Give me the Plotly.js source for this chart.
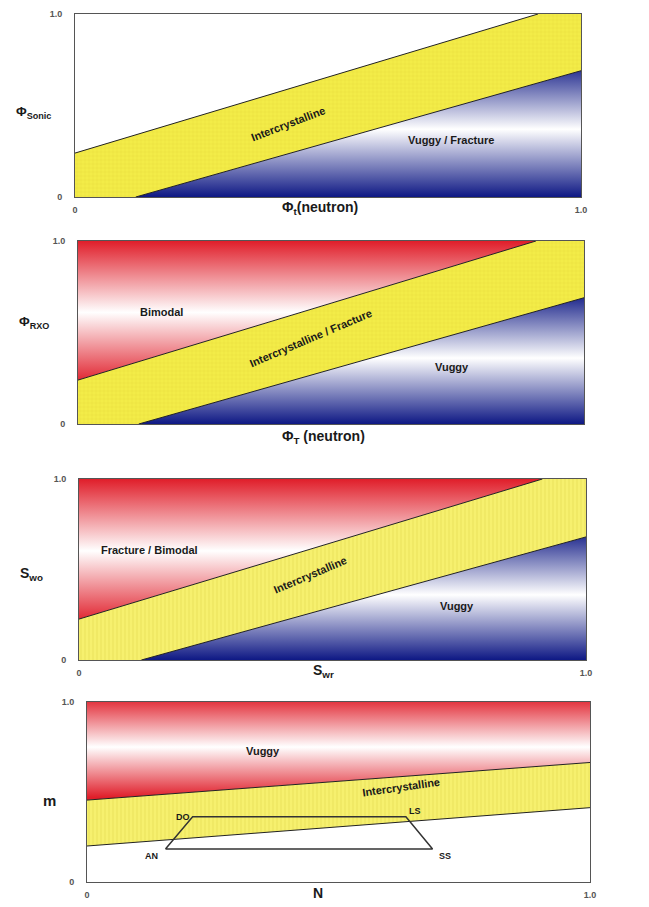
<!DOCTYPE html>
<html>
<head>
<meta charset="utf-8">
<script src="https://cdn.plot.ly/plotly-3.0.1.min.js"></script>
<style>html,body{margin:0;padding:0;background:#fff;}#chart{width:649px;height:907px;}</style>
</head>
<body>
<div id="chart"></div>
<script>
// ---- data (axis units 0..1) ----
const tickVals = [0, 1];
const tickText = ['<b>0</b>', '<b>1.0</b>'];

// Panel 1: Phi_sonic vs Phi_t(neutron)
const p1UpperX = [0, 0.915], p1UpperY = [0.24, 1.0];
const p1LowerX = [0.12, 1.0], p1LowerY = [0, 0.69];
// Panel 2: Phi_RXO vs Phi_T(neutron)
const p2UpperX = [0, 0.905], p2UpperY = [0.24, 1.0];
const p2LowerX = [0.12, 1.0], p2LowerY = [0, 0.69];
// Panel 3: S_wo vs S_wr
const p3UpperX = [0, 0.914], p3UpperY = [0.226, 1.0];
const p3LowerX = [0.123, 1.0], p3LowerY = [0, 0.68];
// Panel 4: m vs N
const p4UpperX = [0, 1.0], p4UpperY = [0.455, 0.664];
const p4LowerX = [0, 1.0], p4LowerY = [0.20, 0.413];
// Lithology trapezoid (panel 4)
const lithNames = ['AN', 'DO', 'LS', 'SS'];
const lithX = [0.156, 0.21, 0.634, 0.687];
const lithY = [0.183, 0.363, 0.363, 0.183];

// Region labels
const p1Labels = [{t:'Intercrystalline', x:0.42, y:0.40, a:-21}, {t:'Vuggy / Fracture', x:0.743, y:0.31, a:0}];
const p2Labels = [{t:'Bimodal', x:0.165, y:0.61, a:0}, {t:'Intercrystalline / Fracture', x:0.46, y:0.47, a:-23}, {t:'Vuggy', x:0.74, y:0.31, a:0}];
const p3Labels = [{t:'Fracture / Bimodal', x:0.14, y:0.605, a:0}, {t:'Intercrystalline', x:0.455, y:0.47, a:-23}, {t:'Vuggy', x:0.746, y:0.30, a:0}];
const p4Labels = [{t:'Vuggy', x:0.35, y:0.73, a:0}, {t:'Intercrystalline', x:0.625, y:0.527, a:-8}];

// ---- styles ----
const FONT = 'Liberation Sans, Arial, sans-serif';
const BLUE = 'rgb(14,24,132)';
const RED = 'rgb(224,30,42)';
const YEL = 'rgb(243,236,72)';
const YEL2 = 'rgb(246,240,110)';
const blueScale = [[0, BLUE], [0.5, 'rgb(255,255,255)'], [1, BLUE]];
const redScale = [[0, RED], [0.5, 'rgb(255,255,255)'], [1, RED]];

const traces = [];
function ax(i){ return i === 1 ? '' : String(i); }

function poly(i, xs, ys, extra){
  traces.push(Object.assign({
    type:'scatter', mode:'lines', x:xs, y:ys, fill:'toself',
    line:{width:0, color:'rgba(0,0,0,0)'}, hoverinfo:'skip', showlegend:false,
    xaxis:'x'+ax(i), yaxis:'y'+ax(i)
  }, extra));
}
function line(i, xs, ys){
  traces.push({type:'scatter', mode:'lines', x:xs, y:ys, line:{width:1, color:'#222'},
    hoverinfo:'skip', showlegend:false, xaxis:'x'+ax(i), yaxis:'y'+ax(i)});
}

function diagonalPanel(i, ux, uy, lx, ly, topRed, blueStop, pat, yc){
  const bandX = [ux[0], ux[1], 1, lx[1], lx[0], 0];
  const bandY = [uy[0], uy[1], 1, ly[1], ly[0], 0];
  poly(i, bandX, bandY, {fillcolor: yc, fillpattern:{shape:pat, bgcolor:yc, fgcolor:'rgba(200,190,40,0.55)', size:4, solidity:0.12}});
  poly(i, [lx[0], lx[1], 1], [ly[0], ly[1], 0], {fillgradient:{type:'vertical', start:0, stop:blueStop, colorscale:blueScale}});
  if (topRed){
    poly(i, [0, ux[0], ux[1]], [1, uy[0], uy[1]], {fillgradient:{type:'vertical', start:uy[0]-0.02, stop:1.0, colorscale:redScale}});
  }
  line(i, ux, uy);
  line(i, lx, ly);
}

diagonalPanel(1, p1UpperX, p1UpperY, p1LowerX, p1LowerY, false, 0.74, '+', YEL);
diagonalPanel(2, p2UpperX, p2UpperY, p2LowerX, p2LowerY, true, 0.72, '+', YEL);
diagonalPanel(3, p3UpperX, p3UpperY, p3LowerX, p3LowerY, true, 0.72, '|', YEL2);

// panel 4
poly(4, [p4UpperX[0], p4UpperX[1], p4LowerX[1], p4LowerX[0]], [p4UpperY[0], p4UpperY[1], p4LowerY[1], p4LowerY[0]],
  {fillcolor:YEL2, fillpattern:{shape:'|', bgcolor:YEL2, fgcolor:'rgba(200,190,40,0.55)', size:4, solidity:0.12}});
poly(4, [0, p4UpperX[0], p4UpperX[1], 1], [1, p4UpperY[0], p4UpperY[1], 1],
  {fillgradient:{type:'vertical', start:0.47, stop:1.03, colorscale:redScale}});
line(4, p4UpperX, p4UpperY);
line(4, p4LowerX, p4LowerY);
traces.push({type:'scatter', mode:'lines', x:lithX.concat([lithX[0]]), y:lithY.concat([lithY[0]]),
  line:{width:1.5, color:'#333'}, hoverinfo:'skip', showlegend:false, xaxis:'x4', yaxis:'y4'});

// ---- layout ----
const W = 649, H = 907;
const boxes = [ // pixel boxes [left, right, top, bottom]
  [75, 581, 14, 197],
  [78, 584, 241, 424],
  [79, 586, 479, 660],
  [87, 590, 702, 882]
];
const layout = {
  width:W, height:H, margin:{l:0, r:0, t:0, b:0},
  paper_bgcolor:'#ffffff', plot_bgcolor:'#ffffff',
  font:{family:FONT, color:'#222'}, showlegend:false,
  annotations:[]
};
boxes.forEach((b, k) => {
  const i = k + 1;
  const common = {range:[0,1], fixedrange:true, showgrid:false, zeroline:false,
    showline:true, mirror:true, linecolor:'#555', linewidth:1, ticks:'',
    tickvals:tickVals, ticktext:tickText, tickfont:{size:9, color:'#555', family:FONT}};
  layout['xaxis'+ax(i)] = Object.assign({}, common, {domain:[b[0]/W, b[1]/W], anchor:'y'+ax(i),
    showticklabels: i !== 2, ticklabelstandoff:4});
  layout['yaxis'+ax(i)] = Object.assign({}, common, {domain:[1-b[3]/H, 1-b[2]/H], anchor:'x'+ax(i), ticklabelstandoff:10});
});

function paperText(t, xpx, ypx, size){
  layout.annotations.push({text:t, xref:'paper', yref:'paper', x:xpx/W, y:1-ypx/H,
    showarrow:false, font:{size:size, family:FONT, color:'#1a1a1a'}, xanchor:'center', yanchor:'middle'});
}
// axis titles
paperText('<b>Φ<sub>Sonic</sub></b>', 33, 112, 13);
paperText('<b>Φ<sub>t</sub>(neutron)</b>', 320, 208, 14);
paperText('<b>Φ<sub>RXO</sub></b>', 34, 323, 13);
paperText('<b>Φ<sub>T</sub> (neutron)</b>', 323, 437, 14);
paperText('<b>S<sub>wo</sub></b>', 31, 574, 14);
paperText('<b>S<sub>wr</sub></b>', 323, 671, 14);
paperText('<b>m</b>', 49, 800, 15);
paperText('<b>N</b>', 318, 893, 14);

function dataLabels(i, arr){
  arr.forEach(o => layout.annotations.push({text:'<b>'+o.t+'</b>', xref:'x'+ax(i), yref:'y'+ax(i),
    x:o.x, y:o.y, textangle:o.a, showarrow:false, font:{size:11, family:FONT, color:'#1a1a1a'}}));
}
dataLabels(1, p1Labels);
dataLabels(2, p2Labels);
dataLabels(3, p3Labels);
dataLabels(4, p4Labels);

// lithology point labels
const lithPos = {AN:{dx:-14, dy:-7}, DO:{dx:-10, dy:0}, LS:{dx:9, dy:6}, SS:{dx:12, dy:-7}};
lithNames.forEach((n, j) => layout.annotations.push({text:'<b>'+n+'</b>', xref:'x4', yref:'y4',
  x:lithX[j], y:lithY[j], xshift:lithPos[n].dx, yshift:lithPos[n].dy, showarrow:false,
  font:{size:9, family:FONT, color:'#1a1a1a'}}));

Plotly.newPlot('chart', traces, layout, {staticPlot:true, displayModeBar:false});
</script>
</body>
</html>
